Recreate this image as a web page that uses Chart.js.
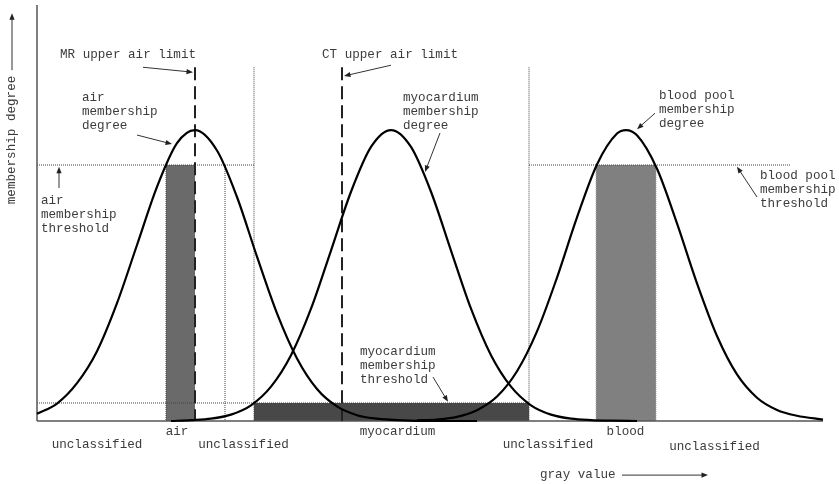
<!DOCTYPE html>
<html>
<head>
<meta charset="utf-8">
<script src="https://cdn.jsdelivr.net/npm/chart.js@4/dist/chart.umd.min.js"></script>
<style>
  html, body { margin: 0; padding: 0; background: #fff; }
  #wrap { width: 839px; height: 484px; }
</style>
</head>
<body>
<div id="wrap"><canvas id="c"></canvas></div>
<script>
// Gray value axis (0..786) and membership degree axis (curve peaks at 1).
const grayMax = 786;
const degreeMax = 1.43;

// Membership degree curves
const airGray     = [0, 20, 40, 60, 80, 100, 120, 140, 158, 180, 200, 220, 240, 260, 280, 300, 320, 340, 360, 400, 440];
const airDegree   = [0.025, 0.06, 0.13, 0.24, 0.405, 0.605, 0.805, 0.955, 1.0, 0.93, 0.77, 0.565, 0.37, 0.215, 0.11, 0.05, 0.02, 0.008, 0.003, 0, 0];
const myoGray     = [134, 154, 174, 194, 214, 234, 254, 274, 294, 314, 334, 354, 374, 394, 414, 434, 454, 474, 494, 514, 534, 554, 574, 600];
const myoDegree   = [0, 0.003, 0.008, 0.022, 0.054, 0.118, 0.226, 0.386, 0.586, 0.788, 0.942, 1.0, 0.942, 0.788, 0.586, 0.386, 0.226, 0.118, 0.054, 0.022, 0.008, 0.003, 0.001, 0];
const bloodGray   = [380, 400, 420, 440, 460, 480, 500, 520, 540, 560, 580, 589, 600, 620, 640, 660, 680, 700, 720, 740, 760, 786];
const bloodDegree = [0.002, 0.005, 0.014, 0.037, 0.084, 0.171, 0.308, 0.493, 0.70, 0.882, 0.988, 1.0, 0.982, 0.867, 0.679, 0.473, 0.292, 0.16, 0.08, 0.038, 0.018, 0.005];

// Classification thresholds and the gray-value ranges they select
const classNames     = ['air', 'myocardium', 'blood'];
const classFrom      = [129, 217, 559];
const classTo        = [158, 492, 619];
const classThreshold = [0.88, 0.062, 0.88];
const airUpperEdge   = 188;   // where the air curve falls back below its threshold

// Upper air limits
const limitNames  = ['MR upper air limit', 'CT upper air limit'];
const limitGray   = [158, 305];
const limitTop    = 1.216;

// Extent of the horizontal threshold guides
const airGuideTo     = 217;
const myoGuideTo     = 492;
const bloodGuideFrom = 492;
const bloodGuideTo   = 753;

// Region names under the axis
const regionNames = ['unclassified', 'air', 'unclassified', 'myocardium', 'unclassified', 'blood', 'unclassified'];
const regionGray  = [60, 140, 206.5, 360.5, 511, 588.5, 677.5];

const pts = (xs, ys) => xs.map((v, i) => ({ x: v, y: ys[i] }));
const seg = (x1, y1, x2, y2) => [{ x: x1, y: y1 }, { x: x2, y: y2 }];
const box = (a, b, h) => [{ x: a, y: 0 }, { x: a, y: h }, { x: b, y: h }, { x: b, y: 0 }];

const curveStyle = { borderColor: '#000', borderWidth: 2.2, pointRadius: 0, fill: false,
                     cubicInterpolationMode: 'monotone', order: 0, clip: false };
const dotStyle = { borderColor: '#444', borderWidth: 1, borderDash: [1, 1], pointRadius: 0,
                   fill: false, tension: 0, order: 2, clip: false };
const dashStyle = { borderColor: '#222', borderWidth: 2, borderDash: [13, 6], pointRadius: 0,
                    fill: false, tension: 0, order: 1, clip: false };
const axisStyle = { borderColor: '#555', borderWidth: 1.5, pointRadius: 0, fill: false,
                    tension: 0, order: 1, clip: false };
const boxColors = ['#6a6a6a', '#484848', '#808080'];

const datasets = [
  { label: 'air', data: pts(airGray, airDegree), ...curveStyle },
  { label: 'myocardium', data: pts(myoGray, myoDegree), ...curveStyle },
  { label: 'blood pool', data: pts(bloodGray, bloodDegree), ...curveStyle },

  // classified ranges
  ...classNames.map((n, i) => ({
    label: n + ' range', data: box(classFrom[i], classTo[i], classThreshold[i]),
    backgroundColor: boxColors[i], borderWidth: 0, pointRadius: 0, tension: 0,
    fill: 'origin', order: 3
  })),

  // threshold guides
  { label: 'air threshold', data: seg(0, classThreshold[0], airGuideTo, classThreshold[0]), ...dotStyle },
  { label: 'myocardium threshold', data: seg(0, classThreshold[1], myoGuideTo, classThreshold[1]), ...dotStyle },
  { label: 'blood threshold', data: seg(bloodGuideFrom, classThreshold[2], bloodGuideTo, classThreshold[2]), ...dotStyle },
  { label: 'air lower edge', data: seg(classFrom[0], classThreshold[0], classFrom[0], 0), ...dotStyle },
  { label: 'air upper edge', data: seg(airUpperEdge, classThreshold[0], airUpperEdge, 0), ...dotStyle },
  { label: 'myocardium lower edge', data: seg(classFrom[1], limitTop, classFrom[1], 0), ...dotStyle },
  { label: 'myocardium upper edge', data: seg(classTo[1], limitTop, classTo[1], 0), ...dotStyle },
  { label: 'blood lower edge', data: seg(classFrom[2], classThreshold[2], classFrom[2], 0), ...dotStyle, borderColor: '#aaa' },
  { label: 'blood upper edge', data: seg(classTo[2], classThreshold[2], classTo[2], 0), ...dotStyle, borderColor: '#aaa' },

  // upper air limits
  ...limitNames.map((n, i) => ({ label: n, data: seg(limitGray[i], limitTop, limitGray[i], 0), ...dashStyle })),

  // axes
  { label: 'x axis', data: seg(0, 0, grayMax, 0), ...axisStyle },
  { label: 'y axis', data: seg(0, 0, 0, degreeMax), ...axisStyle }
];

// Callout texts: anchored in gray value / membership degree units
const notes = [
  { lines: ['MR upper air limit'], gx: 23, gy: 1.261 },
  { lines: ['CT upper air limit'], gx: 285, gy: 1.261 },
  { lines: ['air', 'membership', 'degree'], gx: 45, gy: 1.113 },
  { lines: ['myocardium', 'membership', 'degree'], gx: 366, gy: 1.113 },
  { lines: ['blood pool', 'membership', 'degree'], gx: 622, gy: 1.117 },
  { lines: ['blood pool', 'membership', 'threshold'], gx: 723, gy: 0.842 },
  { lines: ['air', 'membership', 'threshold'], gx: 4, gy: 0.759 },
  { lines: ['myocardium', 'membership', 'threshold'], gx: 323, gy: 0.237 },
  { lines: ['gray value'], gx: 503, gy: -0.186 }
];
const regionRows = [-0.082, -0.038, -0.082, -0.038, -0.082, -0.038, -0.089];
const arrows = [
  [106, 1.216, 156, 1.199],
  [354, 1.223, 307, 1.186],
  [100, 0.983, 135, 0.952],
  [403, 0.990, 388, 0.856],
  [618, 1.058, 600, 1.003],
  [720, 0.770, 700, 0.874],
  [22, 0.801, 22, 0.874],
  [396, 0.151, 411, 0.066],
  [585, -0.186, 671, -0.186],
  [-25, 1.206, -25, 1.402]
];

const annotationPlugin = {
  id: 'callouts',
  afterDraw(chart) {
    const { ctx, scales: { x, y } } = chart;
    const X = v => x.getPixelForValue(v);
    const Y = v => y.getPixelForValue(v);
    ctx.save();
    ctx.font = '12.6px "Liberation Mono", "Courier New", monospace';
    ctx.fillStyle = '#3c3c3c';
    ctx.textBaseline = 'middle';
    ctx.textAlign = 'left';
    notes.forEach(n => n.lines.forEach((t, i) => ctx.fillText(t, X(n.gx), Y(n.gy) + i * 14)));
    ctx.textAlign = 'center';
    regionNames.forEach((t, i) => ctx.fillText(t, X(regionGray[i]), Y(regionRows[i])));

    // axis title
    ctx.save();
    ctx.translate(X(-25), Y(0.966));
    ctx.rotate(-Math.PI / 2);
    ctx.fillText('membership degree', 0, 0);
    ctx.restore();

    // arrows
    ctx.strokeStyle = '#333';
    ctx.fillStyle = '#222';
    ctx.lineWidth = 1;
    arrows.forEach(([a, b, c, d]) => {
      const x1 = X(a), y1 = Y(b), x2 = X(c), y2 = Y(d);
      const ang = Math.atan2(y2 - y1, x2 - x1);
      const len = 6.5, w = 2.6;
      ctx.beginPath();
      ctx.moveTo(x1, y1);
      ctx.lineTo(x2 - Math.cos(ang) * len * 0.8, y2 - Math.sin(ang) * len * 0.8);
      ctx.stroke();
      ctx.beginPath();
      ctx.moveTo(x2, y2);
      ctx.lineTo(x2 - Math.cos(ang) * len - Math.sin(ang) * w, y2 - Math.sin(ang) * len + Math.cos(ang) * w);
      ctx.lineTo(x2 - Math.cos(ang) * len + Math.sin(ang) * w, y2 - Math.sin(ang) * len - Math.cos(ang) * w);
      ctx.closePath();
      ctx.fill();
    });
    ctx.restore();
  }
};

new Chart(document.getElementById('c'), {
  type: 'line',
  data: { datasets },
  options: {
    responsive: true,
    maintainAspectRatio: false,
    animation: false,
    events: [],
    layout: { padding: { left: 37, right: 16, top: 5, bottom: 63 } },
    plugins: { legend: { display: false }, tooltip: { enabled: false } },
    scales: {
      x: { type: 'linear', min: 0, max: grayMax, display: false },
      y: { type: 'linear', min: 0, max: degreeMax, display: false }
    }
  },
  plugins: [annotationPlugin]
});
</script>
</body>
</html>
